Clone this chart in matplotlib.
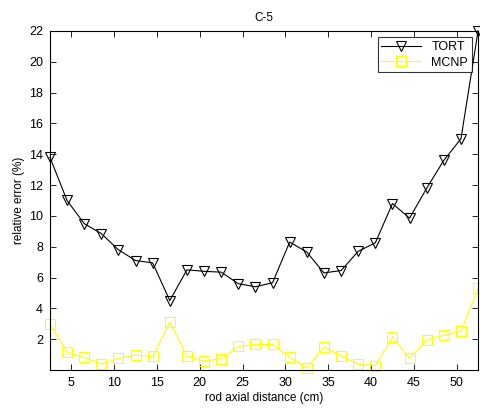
import numpy as np
import matplotlib
matplotlib.use('Agg')
import matplotlib.pyplot as plt

plt.rcParams['font.family'] = ['Liberation Sans', 'DejaVu Sans']

# rod axial distance (cm)
x = [2.5, 4.5, 6.5, 8.5, 10.5, 12.5, 14.5, 16.5, 18.5, 20.5, 22.5, 24.5, 26.5,
     28.5, 30.5, 32.5, 34.5, 36.5, 38.5, 40.5, 42.5, 44.5, 46.5, 48.5, 50.5, 52.5]
# relative error (%)
tort = [13.8, 11.0, 9.5, 8.85, 7.8, 7.1, 6.95, 4.5, 6.5, 6.4, 6.35, 5.6, 5.4,
        5.66, 8.3, 7.65, 6.3, 6.45, 7.7, 8.25, 10.8, 9.85, 11.8, 13.6, 15.0, 22.0]
mcnp = [3.0, 1.14, 0.82, 0.39, 0.75, 0.97, 0.88, 3.12, 0.9, 0.58, 0.73, 1.53, 1.66,
        1.66, 0.82, 0.15, 1.5, 0.93, 0.37, 0.28, 2.15, 0.75, 1.94, 2.26, 2.52, 5.3]

fig = plt.figure(figsize=(4.8, 4.09), dpi=100)
ax = fig.add_axes([0.104, 0.0954, 0.892, 0.829])

ax.plot(x, tort, color='black', lw=0.8, marker='v', markersize=7,
        markerfacecolor='none', markeredgewidth=0.8, label='TORT', clip_on=False)
ax.plot(x, mcnp, color='yellow', lw=0.8, marker='s', markersize=7,
        markerfacecolor='none', markeredgewidth=0.8, label='MCNP', clip_on=False)

ax.set_xlim(2.5, 52.5)
ax.set_ylim(0, 22)
ax.set_xticks(np.arange(5, 55, 5))
ax.set_yticks(np.arange(2, 24, 2))
ax.tick_params(direction='in', top=True, right=True, labelsize=9, length=4, width=0.6,
               pad=5)
for s in ax.spines.values():
    s.set_linewidth(0.8)

ax.set_title('C-5', fontsize=8.5, pad=7)
ax.set_xlabel('rod axial distance (cm)', fontsize=8.5, labelpad=2)
ax.set_ylabel('relative error (%)', fontsize=8.5, labelpad=3)

leg = ax.legend(loc='upper right', fontsize=9, frameon=True, fancybox=False,
                edgecolor='black', borderaxespad=0.5, handlelength=3.2,
                borderpad=0.3, labelspacing=0.3)
leg.get_frame().set_linewidth(0.8)

fig.savefig('out.png', dpi=100)
